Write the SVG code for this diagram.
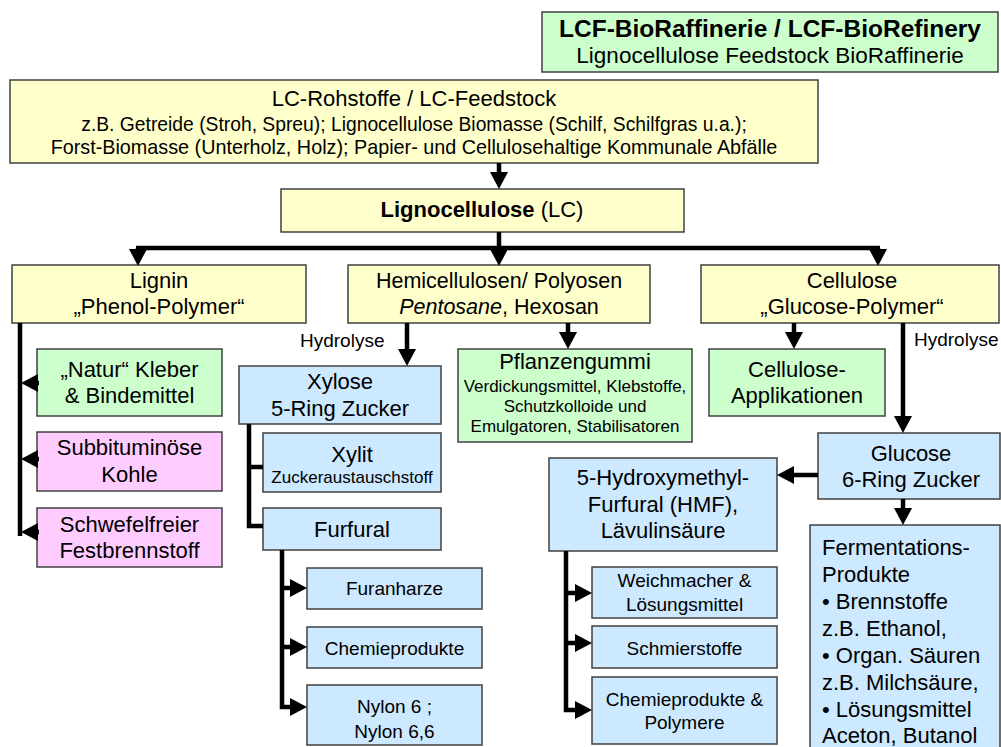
<svg xmlns="http://www.w3.org/2000/svg" width="1001" height="747" viewBox="0 0 1001 747">
<defs>
<style>
text{font-family:"Liberation Sans",Arial,Helvetica,sans-serif;fill:#000;}
.c{text-anchor:middle;}
.b{font-weight:bold;}
.y{fill:#ffffcc;stroke:#404040;stroke-width:1.5;}
.g{fill:#ccffcc;stroke:#404040;stroke-width:1.5;}
.l{fill:#cce9ff;stroke:#404040;stroke-width:1.5;}
.p{fill:#ffccff;stroke:#404040;stroke-width:1.5;}
.f22{font-size:22px;}
.f19{font-size:19px;}
.f17{font-size:17px;}
.ln{fill:none;stroke:#000;stroke-width:4.5;}
</style>
<marker id="ah" markerUnits="userSpaceOnUse" markerWidth="20" markerHeight="20" refX="0" refY="9" orient="auto" overflow="visible">
<path d="M0,0 L17,9 L0,18 z" fill="#000"/>
</marker>
</defs>
<rect width="1001" height="747" fill="#fff"/>

<g id="title">
<rect class="g" x="542" y="12" width="456" height="60"/>
<text class="c b" x="770" y="37" font-size="24.5">LCF-BioRaffinerie / LCF-BioRefinery</text>
<text class="c" x="770" y="63" font-size="22.5">Lignocellulose Feedstock BioRaffinerie</text>
</g>

<g id="feedstock">
<rect class="y" x="10" y="80" width="808" height="83"/>
<text class="c f22" x="414" y="106">LC-Rohstoffe / LC-Feedstock</text>
<text class="c" x="414" y="131" font-size="19.3">z.B. Getreide (Stroh, Spreu); Lignocellulose Biomasse (Schilf, Schilfgras u.a.);</text>
<text class="c" x="414" y="154" font-size="19.8">Forst-Biomasse (Unterholz, Holz); Papier- und Cellulosehaltige Kommunale Abfälle</text>
</g>

<g id="lignocellulose">
<rect class="y" x="281" y="189" width="403" height="43"/>
<text class="c f22" x="482" y="217"><tspan class="b">Lignocellulose</tspan> (LC)</text>
</g>

<g id="lignin">
<rect class="y" x="12" y="265" width="294" height="58"/>
<text class="c f22" x="159" y="288">Lignin</text>
<text class="c f22" x="159" y="314">„Phenol-Polymer“</text>
</g>

<g id="hemicellulose">
<rect class="y" x="348" y="265" width="302" height="58"/>
<text class="c" x="499" y="288" font-size="21.5">Hemicellulosen/ Polyosen</text>
<text class="c" x="499" y="314" font-size="21.5"><tspan font-style="italic">Pentosane</tspan>, Hexosan</text>
</g>

<g id="cellulose">
<rect class="y" x="701" y="265" width="298" height="58"/>
<text class="c f22" x="852" y="288">Cellulose</text>
<text class="c f22" x="852" y="314">„Glucose-Polymer“</text>
</g>

<g id="natur">
<rect class="g" x="37" y="349" width="185" height="67"/>
<text class="c f22" x="129.5" y="377">„Natur“ Kleber</text>
<text class="c f22" x="129.5" y="403">&amp; Bindemittel</text>
</g>

<g id="kohle">
<rect class="p" x="37" y="432" width="185" height="59"/>
<text class="c f22" x="129.5" y="455">Subbituminöse</text>
<text class="c f22" x="129.5" y="482">Kohle</text>
</g>

<g id="festbrennstoff">
<rect class="p" x="37" y="508" width="185" height="59"/>
<text class="c f22" x="129.5" y="532">Schwefelfreier</text>
<text class="c f22" x="129.5" y="558">Festbrennstoff</text>
</g>

<g id="xylose">
<rect class="l" x="239" y="366" width="202" height="58"/>
<text class="c f22" x="340" y="389">Xylose</text>
<text class="c f22" x="340" y="416">5-Ring Zucker</text>
</g>

<g id="xylit">
<rect class="l" x="263" y="433" width="178" height="59"/>
<text class="c f22" x="352" y="462">Xylit</text>
<text class="c f17" x="352" y="483">Zuckeraustauschstoff</text>
</g>

<g id="furfural">
<rect class="l" x="263" y="508" width="178" height="42"/>
<text class="c f22" x="352" y="537">Furfural</text>
</g>

<g id="furanharze">
<rect class="l" x="307" y="568" width="175" height="41"/>
<text class="c f19" x="394.5" y="595">Furanharze</text>
</g>

<g id="chemieprodukte1">
<rect class="l" x="307" y="627" width="175" height="41"/>
<text class="c f19" x="394.5" y="655">Chemieprodukte</text>
</g>

<g id="nylon">
<rect class="l" x="307" y="685" width="175" height="60"/>
<text class="c f19" x="394.5" y="713">Nylon 6 ;</text>
<text class="c f19" x="394.5" y="738">Nylon 6,6</text>
</g>

<g id="pflanzengummi">
<rect class="g" x="458" y="349" width="234" height="93"/>
<text class="c f22" x="575" y="369">Pflanzengummi</text>
<text class="c f17" x="575" y="392">Verdickungsmittel, Klebstoffe,</text>
<text class="c f17" x="575" y="412">Schutzkolloide und</text>
<text class="c f17" x="575" y="432">Emulgatoren, Stabilisatoren</text>
</g>

<g id="applikationen">
<rect class="g" x="709" y="349" width="176" height="67"/>
<text class="c f22" x="797" y="377">Cellulose-</text>
<text class="c f22" x="797" y="403">Applikationen</text>
</g>

<g id="glucose">
<rect class="l" x="818" y="433" width="182" height="66"/>
<text class="c f22" x="911" y="461">Glucose</text>
<text class="c f22" x="911" y="487">6-Ring Zucker</text>
</g>

<g id="hmf">
<rect class="l" x="549" y="458" width="228" height="93"/>
<text class="c f22" x="663" y="485">5-Hydroxymethyl-</text>
<text class="c f22" x="663" y="512">Furfural (HMF),</text>
<text class="c f22" x="663" y="538">Lävulinsäure</text>
</g>

<g id="weichmacher">
<rect class="l" x="592" y="567" width="185" height="51"/>
<text class="c f19" x="684.5" y="587">Weichmacher &amp;</text>
<text class="c f19" x="684.5" y="611">Lösungsmittel</text>
</g>

<g id="schmierstoffe">
<rect class="l" x="592" y="626" width="185" height="42"/>
<text class="c f19" x="684.5" y="655">Schmierstoffe</text>
</g>

<g id="polymere">
<rect class="l" x="592" y="677" width="185" height="67"/>
<text class="c f19" x="684.5" y="706">Chemieprodukte &amp;</text>
<text class="c f19" x="684.5" y="729">Polymere</text>
</g>

<g id="fermentation">
<rect class="l" x="810" y="525" width="190" height="240"/>
<text class="f22" x="822" y="555">Fermentations-</text>
<text class="f22" x="822" y="582">Produkte</text>
<text class="f22" x="822" y="609">• Brennstoffe</text>
<text class="f22" x="822" y="636">z.B. Ethanol,</text>
<text class="f22" x="822" y="663">• Organ. Säuren</text>
<text class="f22" x="822" y="690">z.B. Milchsäure,</text>
<text class="f22" x="822" y="717">• Lösungsmittel</text>
<text class="f22" x="822" y="743">Aceton, Butanol</text>
</g>

<g id="connectors">
<path class="ln" d="M499,163 V172" marker-end="url(#ah)"/>
<path class="ln" d="M499,232 V248"/>
<path class="ln" d="M136,248 H880"/>
<path class="ln" d="M138,248 V249" marker-end="url(#ah)"/>
<path class="ln" d="M499,248 V249" marker-end="url(#ah)"/>
<path class="ln" d="M878,248 V249" marker-end="url(#ah)"/>
<path class="ln" d="M20,323 V536"/>
<path class="ln" d="M39,383 H38" marker-end="url(#ah)"/>
<path class="ln" d="M39,459 H38" marker-end="url(#ah)"/>
<path class="ln" d="M39,532 H38" marker-end="url(#ah)"/>
<path class="ln" d="M407,323 V349" marker-end="url(#ah)"/>
<path class="ln" d="M568,323 V332" marker-end="url(#ah)"/>
<path class="ln" d="M794,323 V332" marker-end="url(#ah)"/>
<path class="ln" d="M903,323 V416" marker-end="url(#ah)"/>
<path class="ln" d="M903,499 V508" marker-end="url(#ah)"/>
<path class="ln" d="M818,475 H794" marker-end="url(#ah)"/>
<path class="ln" d="M249,424 V526 H263"/>
<path class="ln" d="M249,467 H263"/>
<path class="ln" d="M282,550 V707 H290" marker-end="url(#ah)"/>
<path class="ln" d="M282,588 H290" marker-end="url(#ah)"/>
<path class="ln" d="M282,647 H290" marker-end="url(#ah)"/>
<path class="ln" d="M566,551 V710 H575" marker-end="url(#ah)"/>
<path class="ln" d="M566,593 H575" marker-end="url(#ah)"/>
<path class="ln" d="M566,643 H575" marker-end="url(#ah)"/>
<text class="f19" x="300" y="347">Hydrolyse</text>
<text class="f19" x="914" y="346">Hydrolyse</text>
</g>
</svg>
